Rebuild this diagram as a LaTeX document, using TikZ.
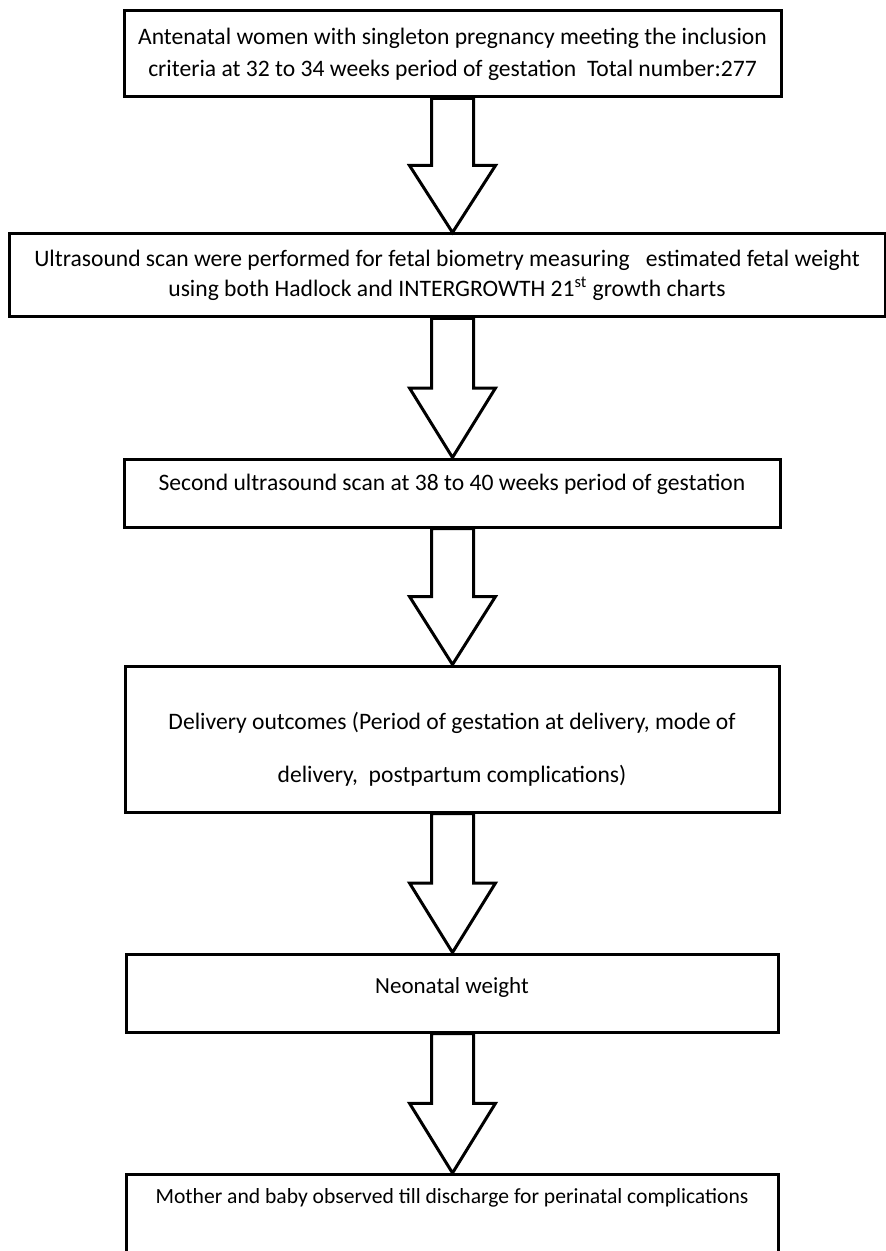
\documentclass[tikz,border=0pt]{standalone}
\usepackage{fontspec}
\setmainfont{Carlito}
\usetikzlibrary{calc}
\tikzset{
    stagebox/.style={draw, line width=1.5pt, fill=white, inner sep=0pt, align=center, font=\fontsize{11.8}{16}\selectfont},
    hollowarrow/.style={draw, line width=1.5pt, fill=white, line join=miter}}

\begin{document}
\begin{tikzpicture}[x=0.5pt,y=-0.5pt]
\clip (0,0) rectangle (886,1251);
\fill[white] (0,0) rectangle (886,1251);

\node[stagebox, minimum width=328.5pt, minimum height=43pt] (b1) at (452.5,54) {Antenatal women with singleton pregnancy meeting the inclusion\\criteria at 32 to 34 weeks period of gestation\ \ Total number:277};
\node[stagebox, minimum width=438pt, minimum height=41.5pt, font=\fontsize{11.8}{15}\selectfont] (b2) at (447,275.5) {Ultrasound scan were performed for fetal biometry measuring\ \ \ estimated fetal weight\\using both Hadlock and INTERGROWTH 21\textsuperscript{st} growth charts};
\node[stagebox, minimum width=328pt, text height=15.5pt, text depth=18.5pt] (b3) at (452,493) {Second ultrasound scan at 38 to 40 weeks period of gestation};
\node[stagebox, minimum width=327pt, minimum height=73pt, font=\fontsize{11.8}{26.5}\selectfont] (b4) at (452,739) {\rule{0pt}{18.5pt}Delivery outcomes (Period of gestation at delivery, mode of\\delivery,\ \ postpartum complications)};
\node[stagebox, minimum width=326pt, text height=19.5pt, text depth=19.5pt, font=\fontsize{11.5}{14}\selectfont] (b5) at (452,993) {Neonatal weight};
\node[stagebox, minimum width=326pt, text height=14.5pt, text depth=45.5pt, anchor=north, font=\fontsize{10.8}{13}\selectfont] (b6) at (452,1173) {Mother and baby observed till discharge for perinatal complications};

% hollow block arrows between the stages
\foreach \a/\b in {b1/b2,b2/b3,b3/b4,b4/b5,b5/b6}{
    \coordinate (top) at (b1.center |- \a.south);
    \coordinate (tip) at (b1.center |- \b.north);
    \coordinate (mid) at ($(top)!0.5!(tip)$);
    \draw[hollowarrow] ($(top)+(-21,0)$) -- ($(mid)+(-21,0)$) -- ($(mid)+(-43,0)$) -- (tip)
        -- ($(mid)+(43,0)$) -- ($(mid)+(21,0)$) -- ($(top)+(21,0)$) -- cycle;
}
\end{tikzpicture}
\end{document}
